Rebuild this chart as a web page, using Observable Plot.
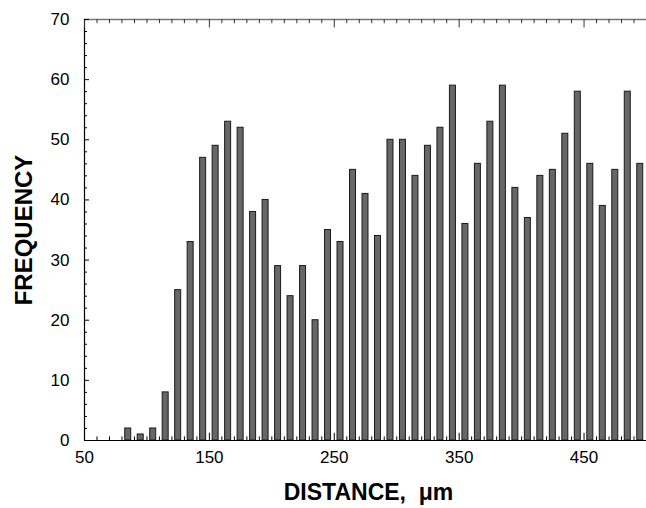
<!DOCTYPE html>
<html>
<head>
<meta charset="utf-8">
<script src="https://cdn.jsdelivr.net/npm/d3@7"></script>
<script src="https://cdn.jsdelivr.net/npm/@observablehq/plot@0.6"></script>
<style>
  html, body { margin: 0; padding: 0; background: #fff; }
  #chart { width: 646px; height: 508px; }
</style>
</head>
<body>
<div id="chart"></div>
<script>
const distances = [85, 95, 105, 115, 125, 135, 145, 155, 165, 175,
  185, 195, 205, 215, 225, 235, 245, 255, 265, 275,
  285, 295, 305, 315, 325, 335, 345, 355, 365, 375,
  385, 395, 405, 415, 425, 435, 445, 455, 465, 475,
  485, 495];
const frequencies = [2, 1, 2, 8, 25, 33, 47, 49, 53, 52,
  38, 40, 29, 24, 29, 20, 35, 33, 45, 41,
  34, 50, 50, 44, 49, 52, 59, 36, 46, 53,
  59, 42, 37, 44, 45, 51, 58, 46, 39, 45,
  58, 46];
const xTickLabels = [50, 150, 250, 350, 450];
const yTickLabels = [0, 10, 20, 30, 40, 50, 60, 70];
const xMinorTicks = d3.range(50, 501, 10);
const yMinorTicks = d3.range(0, 71, 2);
const xLabel = "DISTANCE,  μm";
const yLabel = "FREQUENCY";

const data = distances.map((x, i) => ({x, y: frequencies[i]}));
const halfBar = 2.4;

const font = "'Liberation Sans', Arial, sans-serif";

const chart = Plot.plot({
  width: 646,
  height: 508,
  marginLeft: 84,
  marginRight: 0,
  marginTop: 19,
  marginBottom: 68,
  style: {fontFamily: font, background: "#fff", color: "#000"},
  x: {type: "linear", domain: [50, 500], axis: null},
  y: {type: "linear", domain: [0, 70], axis: null},
  marks: [
    // bars
    Plot.rectY(data, {x1: d => d.x - halfBar, x2: d => d.x + halfBar, y: "y", fill: "#676767", stroke: "#1a1a1a", strokeWidth: 1}),
    // frame lines
    Plot.ruleY([0], {stroke: "#000", strokeWidth: 1.2}),
    Plot.ruleY([70], {stroke: "#777", strokeWidth: 1.5}),
    Plot.ruleX([50], {stroke: "#000", strokeWidth: 1.2}),
    // x ticks bottom (inward)
    Plot.ruleX(xMinorTicks, {x: d => d, y1: 0, y2: d => (d - 50) % 100 === 0 ? 1.2 : 0.6, stroke: "#000"}),
    // x ticks top (inward)
    Plot.ruleX(xMinorTicks, {x: d => d, y1: 70, y2: d => (d - 50) % 100 === 0 ? 68.6 : 69.3, stroke: "#333"}),
    // y ticks left (inward)
    Plot.ruleY(yMinorTicks, {y: d => d, x1: 50, x2: d => d % 10 === 0 ? 54 : 52.4, stroke: "#000"}),
    // tick labels
    Plot.text(xTickLabels, {x: d => d, y: 0, text: d => String(d), dy: 17, fontSize: 17, fill: "#000"}),
    Plot.text(yTickLabels, {x: 50, y: d => d, text: d => String(d), dx: -15, textAnchor: "end", fontSize: 17, fill: "#000"}),
    // axis titles
    Plot.text([xLabel], {frameAnchor: "bottom", text: d => d, dy: 59, dx: 3, fontSize: 23, fontWeight: "bold", fill: "#000"}),
    Plot.text([yLabel], {frameAnchor: "left", textAnchor: "middle", text: d => d, dx: -60, dy: 0, rotate: -90, fontSize: 24, fontWeight: "bold", fill: "#000"})
  ]
});
document.getElementById("chart").appendChild(chart);
</script>
</body>
</html>
